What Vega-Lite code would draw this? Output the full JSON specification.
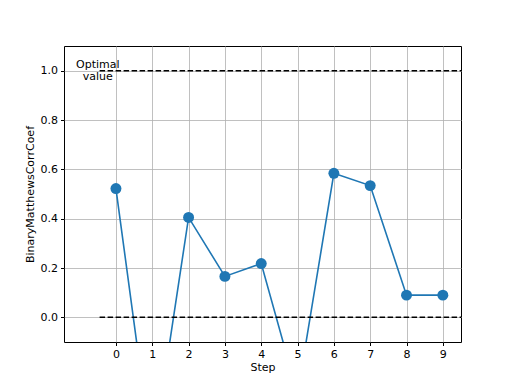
{
  "$schema": "https://vega.github.io/schema/vega-lite/v6.json",
  "width": 397,
  "height": 296,
  "autosize": {"type": "none"},
  "padding": {"left": 64, "top": 46, "right": 51, "bottom": 42},
  "config": {
    "font": "DejaVu Sans",
    "view": {"stroke": "black", "strokeWidth": 1},
    "axis": {
      "labelFont": "DejaVu Sans", "labelFontSize": 11, "labelColor": "black",
      "titleFont": "DejaVu Sans", "titleFontSize": 11, "titleFontWeight": "normal", "titleColor": "black",
      "gridColor": "#b0b0b0", "gridWidth": 0.8, "gridOpacity": 1,
      "tickColor": "black", "tickSize": 3.5, "domain": false, "labelPadding": 3
    }
  },
  "datasets": {
    "mcc": [
      {"step": 0, "value": 0.522},
      {"step": 1, "value": -0.57},
      {"step": 2, "value": 0.405},
      {"step": 3, "value": 0.166},
      {"step": 4, "value": 0.218},
      {"step": 5, "value": -0.31},
      {"step": 6, "value": 0.584},
      {"step": 7, "value": 0.534},
      {"step": 8, "value": 0.09},
      {"step": 9, "value": 0.09}
    ],
    "ref": [
      {"x0": -0.45, "x1": 9.5, "y": 1.0},
      {"x0": -0.45, "x1": 9.5, "y": 0.0}
    ],
    "label": [
      {"x": -0.5, "y": 1.022, "text": "Optimal\nvalue"}
    ]
  },
  "layer": [
    {
      "data": {"name": "mcc"},
      "mark": {"type": "line", "color": "#1f77b4", "strokeWidth": 1.6, "clip": true},
      "encoding": {
        "x": {"field": "step", "type": "quantitative", "scale": {"domain": [-1.43, 9.5], "nice": false, "zero": false},
              "axis": {"values": [0,1,2,3,4,5,6,7,8,9], "title": "Step", "format": "d", "titlePadding": 2}},
        "y": {"field": "value", "type": "quantitative", "scale": {"domain": [-0.1, 1.1], "nice": false, "zero": false},
              "axis": {"values": [0,0.2,0.4,0.6,0.8,1.0], "format": ".1f", "title": "BinaryMatthewsCorrCoef", "titlePadding": 5}}
      }
    },
    {
      "data": {"name": "mcc"},
      "mark": {"type": "point", "filled": true, "color": "#1f77b4", "size": 120, "opacity": 1, "clip": true},
      "encoding": {
        "x": {"field": "step", "type": "quantitative"},
        "y": {"field": "value", "type": "quantitative"}
      }
    },
    {
      "data": {"name": "ref"},
      "mark": {"type": "rule", "color": "black", "strokeWidth": 1.5, "strokeDash": [5.5, 2.5], "clip": true},
      "encoding": {
        "x": {"field": "x0", "type": "quantitative"},
        "x2": {"field": "x1"},
        "y": {"field": "y", "type": "quantitative"}
      }
    },
    {
      "data": {"name": "label"},
      "mark": {"type": "text", "color": "black", "fontSize": 11, "font": "DejaVu Sans", "align": "center", "baseline": "middle", "lineBreak": "\n", "lineHeight": 12},
      "encoding": {
        "x": {"field": "x", "type": "quantitative"},
        "y": {"field": "y", "type": "quantitative"},
        "text": {"field": "text"}
      }
    }
  ]
}
